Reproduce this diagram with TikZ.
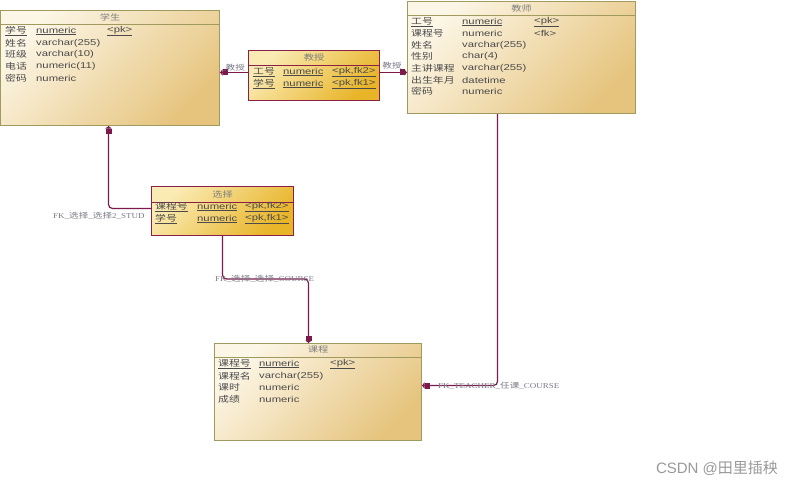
\documentclass[tikz,border=0pt]{standalone}
\usepackage{fontspec}
\setmainfont{Liberation Sans}[FakeStretch=1.33]
\newfontfamily\cjk{Noto Sans CJK SC}[FakeStretch=1.28]
\newfontfamily\lblfont{Liberation Serif}[FakeStretch=1.2]
\newfontfamily\wmcjk{Noto Sans CJK SC}
\usepackage{tikz}
\usetikzlibrary{arrows.meta, positioning, calc}
\definecolor{fkred}{HTML}{7B1A4B}
\definecolor{entline}{HTML}{A09A5E}
\definecolor{entlight}{HTML}{FCF6E6}
\definecolor{entdark}{HTML}{E6C47E}
\definecolor{linkline}{HTML}{8A2048}
\definecolor{linklight}{HTML}{FAEBB4}
\definecolor{linkdark}{HTML}{E8B428}
\definecolor{txtgray}{HTML}{4A4A4A}
\definecolor{lblgray}{HTML}{7A7A88}
\tikzset{
  entity/.style={draw=entline, line width=1pt, top color=entlight, bottom color=entdark, shading angle=45, anchor=north west, inner sep=0pt},
  link/.style={draw=linkline, line width=1pt, top color=linklight, bottom color=linkdark, shading angle=45, anchor=north west, inner sep=0pt},
  hdr/.style={text=txtgray!70, inner sep=0pt, font=\fontsize{8}{9}\cjk},
  fld/.style={anchor=west, inner sep=0pt},
  fk/.style={draw=fkred, line width=1.2pt, rounded corners=4pt, -{Rectangle[length=5pt,width=6pt,sharp]Triangle[length=2.5pt,width=6pt,sharp]}},
  fklabel/.style={text=lblgray, inner sep=1pt, font=\fontsize{7.5}{9}\lblfont}
}
\begin{document}
\begin{tikzpicture}[x=1pt, y=-1pt, font=\fontsize{8.5}{10}\selectfont, text=txtgray]
  \useasboundingbox (0,0) rectangle (801,487);
  % tables
  \node[entity, minimum width=219pt, minimum height=115pt] (xuesheng) at (0,10) {};
  \node[entity, minimum width=228pt, minimum height=112pt] (jiaoshi) at (407,1) {};
  \node[entity, minimum width=207pt, minimum height=97pt] (kecheng) at (214,343) {};
  \node[link, minimum width=131pt, minimum height=50pt] (jiaoshou) at (248,50) {};
  \node[link, minimum width=142pt, minimum height=49pt] (xuanze) at (151,186) {};
  \draw[entline] ([yshift=-14pt]xuesheng.north west) -- ([yshift=-14pt]xuesheng.north east);
  \draw[entline] ([yshift=-14pt]jiaoshi.north west) -- ([yshift=-14pt]jiaoshi.north east);
  \draw[entline] ([yshift=-14pt]kecheng.north west) -- ([yshift=-14pt]kecheng.north east);
  \draw[linkline] ([yshift=-15pt]jiaoshou.north west) -- ([yshift=-15pt]jiaoshou.north east);
  \draw[linkline] ([yshift=-16pt]xuanze.north west) -- ([yshift=-16pt]xuanze.north east);
  \node[hdr] (xuesheng-t) at ([yshift=-7pt]xuesheng.north) {学生};
  \node[hdr] (jiaoshi-t) at ([yshift=-7pt]jiaoshi.north) {教师};
  \node[hdr] (kecheng-t) at ([yshift=-7pt]kecheng.north) {课程};
  \node[hdr] (jiaoshou-t) at ([yshift=-7pt]jiaoshou.north) {教授};
  \node[hdr] (xuanze-t) at ([yshift=-8pt]xuanze.north) {选择};

  % 学生 fields
  \node[fld] (xs-1a) at (5,31) {\underline{\cjk 学号}};
  \node[fld] (xs-1b) at (36,31) {\underline{numeric}};
  \node[fld] (xs-1c) at (107,31) {\underline{<pk>}};
  \foreach \k/\a/\b/\y in {2/姓名/varchar(255)/43, 3/班级/varchar(10)/54, 4/电话/numeric(11)/66, 5/密码/numeric/78} {
    \node[fld] (xs-\k a) at (5,\y) {\cjk\a};
    \node[fld] (xs-\k b) at (36,\y) {\b};
  }

  % 教师 fields
  \node[fld] (js-1a) at (411,22) {\underline{\cjk 工号}};
  \node[fld] (js-1b) at (462,22) {\underline{numeric}};
  \node[fld] (js-1c) at (534,22) {\underline{<pk>}};
  \node[fld] (js-2a) at (411,33) {\cjk 课程号};
  \node[fld] (js-2b) at (462,33) {numeric};
  \node[fld] (js-2c) at (534,33) {<fk>};
  \foreach \k/\a/\b/\y in {3/姓名/varchar(255)/45, 4/性别/char(4)/56, 5/主讲课程/varchar(255)/68, 6/出生年月/datetime/80, 7/密码/numeric/91} {
    \node[fld] (js-\k a) at (411,\y) {\cjk\a};
    \node[fld] (js-\k b) at (462,\y) {\b};
  }

  % 教授 fields
  \node[fld] (jss-1a) at (253,72) {\underline{\cjk 工号}};
  \node[fld] (jss-1b) at (283,72) {\underline{numeric}};
  \node[fld] (jss-1c) at (332,72) {\underline{<pk,fk2>}};
  \node[fld] (jss-2a) at (253,84) {\underline{\cjk 学号}};
  \node[fld] (jss-2b) at (283,84) {\underline{numeric}};
  \node[fld] (jss-2c) at (332,84) {\underline{<pk,fk1>}};

  % 选择 fields
  \node[fld] (xz-1a) at (155,207) {\underline{\cjk 课程号}};
  \node[fld] (xz-1b) at (197,207) {\underline{numeric}};
  \node[fld] (xz-1c) at (245,207) {\underline{<pk,fk2>}};
  \node[fld] (xz-2a) at (155,219) {\underline{\cjk 学号}};
  \node[fld] (xz-2b) at (197,219) {\underline{numeric}};
  \node[fld] (xz-2c) at (245,219) {\underline{<pk,fk1>}};

  % 课程 fields
  \node[fld] (kc-1a) at (218,364) {\underline{\cjk 课程号}};
  \node[fld] (kc-1b) at (259,364) {\underline{numeric}};
  \node[fld] (kc-1c) at (330,364) {\underline{<pk>}};
  \foreach \k/\a/\b/\y in {2/课程名/varchar(255)/376, 3/课时/numeric/387, 4/成绩/numeric/399} {
    \node[fld] (kc-\k a) at (218,\y) {\cjk\a};
    \node[fld] (kc-\k b) at (259,\y) {\b};
  }

  % references
  \draw[fk] ([yshift=3pt]jiaoshou.west) -- ([yshift=3pt]jiaoshou.west -| xuesheng.east);
  \draw[fk] ([yshift=3pt]jiaoshou.east) -- ([yshift=3pt]jiaoshou.east -| jiaoshi.west);
  \draw[fk] ([yshift=2.5pt]xuanze.west) -| ([xshift=-1.5pt]xuesheng.south);
  \draw[fk] (xuanze.south) -- ++(0,43) -| ([xshift=-9.5pt]kecheng.north);
  \draw[fk] ([xshift=-24pt]jiaoshi.south) |- ([yshift=6.5pt]kecheng.east);
  \node[fklabel] (l-js1) at (233,68) {\_{\cjk 教授}};
  \node[fklabel] (l-js2) at (392,66) {\cjk 教授};
  \node[fklabel, anchor=west] (l-xz1) at (52,216) {FK\_{\cjk 选择}\_{\cjk 选择}2\_STUD};
  \node[fklabel, anchor=west] (l-xz2) at (214,279) {FK\_{\cjk 选择}\_{\cjk 选择}\_COURSE};
  \node[fklabel, anchor=west] (l-tc) at (437,386) {FK\_TEACHER\_{\cjk 任课}\_COURSE};

  \node[text=gray!80, font=\fontsize{15}{17}\selectfont] (wm) at (717,468) {\addfontfeature{FakeStretch=1}CSDN @{\wmcjk 田里插秧}};
\end{tikzpicture}
\end{document}
